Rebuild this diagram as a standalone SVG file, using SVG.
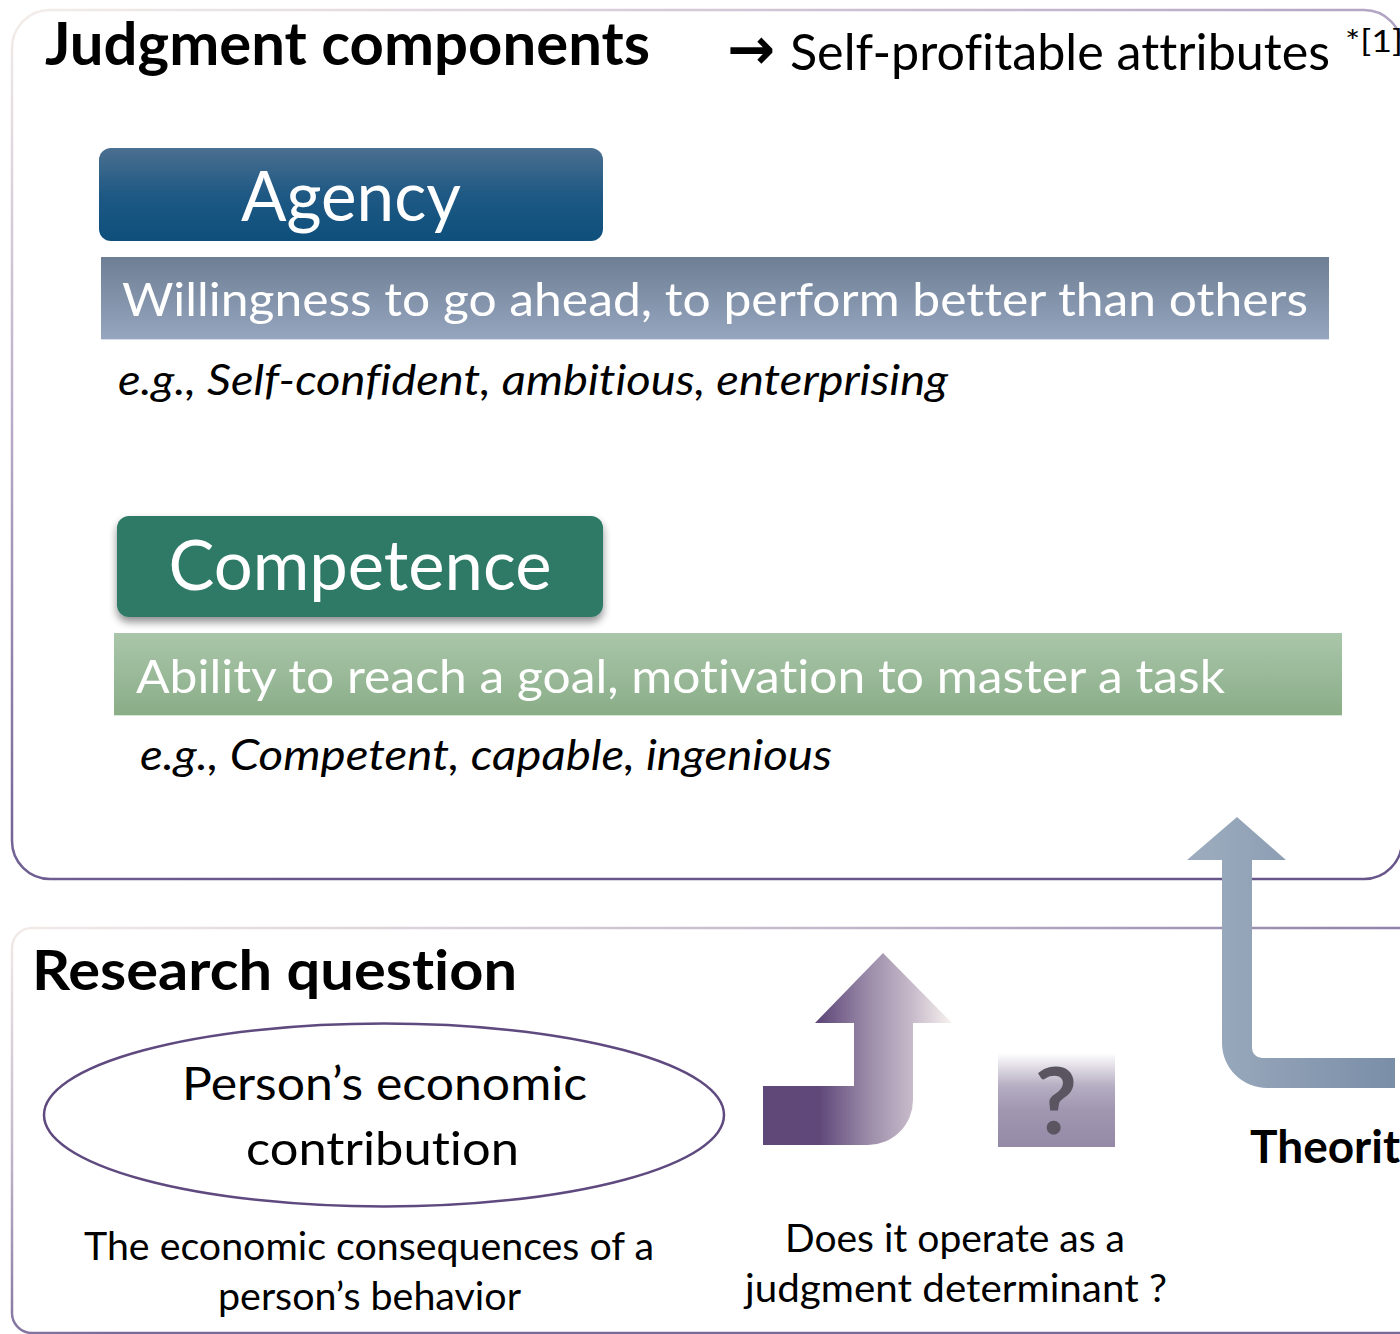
<svg xmlns="http://www.w3.org/2000/svg" width="1400" height="1334" viewBox="0 0 1400 1334">
  <defs>
    <linearGradient id="frameTop" gradientUnits="userSpaceOnUse" x1="12" y1="10" x2="300" y2="880">
      <stop offset="0" stop-color="#f4eeea"/>
      <stop offset="0.45" stop-color="#b6a8c6"/>
      <stop offset="0.9" stop-color="#6e5e92"/>
      <stop offset="1" stop-color="#66568a"/>
    </linearGradient>
    <linearGradient id="frameBottom" gradientUnits="userSpaceOnUse" x1="12" y1="928" x2="120" y2="1334">
      <stop offset="0" stop-color="#f3ebe8"/>
      <stop offset="0.5" stop-color="#c4b8cc"/>
      <stop offset="1" stop-color="#7a6a9a"/>
    </linearGradient>
    <linearGradient id="agencyFill" x1="0" y1="0" x2="0" y2="1">
      <stop offset="0" stop-color="#4b6f8f"/>
      <stop offset="0.5" stop-color="#1e5984"/>
      <stop offset="1" stop-color="#0e4f7c"/>
    </linearGradient>
    <linearGradient id="agencyBar" x1="0" y1="0" x2="0" y2="1">
      <stop offset="0" stop-color="#6d7e95"/>
      <stop offset="1" stop-color="#96a6be"/>
    </linearGradient>
    <linearGradient id="competenceBar" x1="0" y1="0" x2="0" y2="1">
      <stop offset="0" stop-color="#aac6aa"/>
      <stop offset="1" stop-color="#89ad87"/>
    </linearGradient>
    <linearGradient id="blueArrow" gradientUnits="userSpaceOnUse" x1="1187" y1="0" x2="1395" y2="0">
      <stop offset="0" stop-color="#9eadbf"/>
      <stop offset="1" stop-color="#7a8ea8"/>
    </linearGradient>
    <linearGradient id="purpleArrow" gradientUnits="userSpaceOnUse" x1="763" y1="0" x2="952" y2="0">
      <stop offset="0" stop-color="#5e4878"/>
      <stop offset="0.3" stop-color="#60497a"/>
      <stop offset="0.55" stop-color="#9a8aa8"/>
      <stop offset="0.8" stop-color="#c9bdcc"/>
      <stop offset="1" stop-color="#f8f2ee"/>
    </linearGradient>
    <linearGradient id="questionFill" x1="0" y1="0" x2="0" y2="1">
      <stop offset="0" stop-color="#ffffff"/>
      <stop offset="0.35" stop-color="#b6aec3"/>
      <stop offset="0.6" stop-color="#a197b1"/>
      <stop offset="1" stop-color="#958aa6"/>
    </linearGradient>
    <filter id="softShadow" x="-10%" y="-20%" width="120%" height="160%">
      <feGaussianBlur in="SourceAlpha" stdDeviation="4"/>
      <feOffset dx="0" dy="5" result="blur"/>
      <feComponentTransfer><feFuncA type="linear" slope="0.45"/></feComponentTransfer>
      <feMerge><feMergeNode/><feMergeNode in="SourceGraphic"/></feMerge>
    </filter>
  </defs>
  <style>
    text { font-family: Lato, "Open Sans", "Liberation Sans", sans-serif; font-variant-ligatures: none; font-feature-settings: "liga" 0; }
    .head { font-weight: bold; fill: #000; }
    .plain { fill: #000; }
    .white { fill: #fff; }
    .ital { font-style: italic; fill: #000; }
    .frame { fill: none; stroke-width: 2.5; }
  </style>

  <rect width="1400" height="1334" fill="#fff"/>

  <!-- panel frames -->
  <g id="panel-judgment">
    <rect class="frame" x="12" y="10" width="1390" height="869" rx="38" stroke="url(#frameTop)"/>
  </g>
  <g id="panel-research">
    <rect class="frame" x="12" y="928" width="1460" height="405" rx="20" stroke="url(#frameBottom)"/>
  </g>

  <!-- header -->
  <g id="title-judgment">
    <text class="head" x="45" y="65" font-size="60" textLength="605" lengthAdjust="spacingAndGlyphs">Judgment components</text>
    <text x="727" y="69" font-size="58" font-weight="bold" style="font-family:'DejaVu Sans',sans-serif" fill="#000" textLength="48" lengthAdjust="spacingAndGlyphs">→</text>
    <text class="plain" x="790" y="70" font-size="50" textLength="540" lengthAdjust="spacingAndGlyphs">Self-prof&#8204;itable attributes</text>
    <text class="plain" x="1345" y="52" font-size="30" textLength="58" lengthAdjust="spacingAndGlyphs">*[1]</text>
  </g>

  <!-- agency -->
  <g id="node-agency">
    <rect x="99" y="148" width="504" height="93" rx="12" fill="url(#agencyFill)"/>
    <text class="white" x="351" y="221" font-size="70" text-anchor="middle" textLength="220" lengthAdjust="spacingAndGlyphs">Agency</text>
  </g>
  <g id="node-agency-definition">
    <rect x="101" y="257" width="1228" height="83" fill="url(#agencyBar)"/>
    <line x1="101" y1="339.5" x2="1329" y2="339.5" stroke="#d6dde6" stroke-width="1"/>
    <text class="white" x="122" y="316" font-size="47" textLength="1186" lengthAdjust="spacingAndGlyphs">Willingness to go ahead, to perform better than others</text>
  </g>
  <g id="node-agency-examples">
    <text class="ital" x="118" y="395" font-size="42" textLength="830" lengthAdjust="spacingAndGlyphs">e.g., Self-conf&#8204;ident, ambitious,  enterprising</text>
  </g>

  <!-- competence -->
  <g id="node-competence">
    <rect x="117" y="516" width="486" height="101" rx="12" fill="#2d7a66" filter="url(#softShadow)"/>
    <text class="white" x="360" y="590" font-size="70" text-anchor="middle" textLength="383" lengthAdjust="spacingAndGlyphs">Competence</text>
  </g>
  <g id="node-competence-definition">
    <rect x="114" y="633" width="1228" height="83" fill="url(#competenceBar)"/>
    <line x1="114" y1="715.5" x2="1342" y2="715.5" stroke="#d8e6d6" stroke-width="1"/>
    <text class="white" x="136" y="693" font-size="47" textLength="1089" lengthAdjust="spacingAndGlyphs">Ability to reach a goal, motivation to master a task</text>
  </g>
  <g id="node-competence-examples">
    <text class="ital" x="140" y="770" font-size="42" textLength="692" lengthAdjust="spacingAndGlyphs">e.g., Competent, capable,  ingenious</text>
  </g>

  <!-- research question -->
  <g id="title-research">
    <text class="head" x="32" y="990" font-size="56" textLength="485" lengthAdjust="spacingAndGlyphs">Research question</text>
  </g>
  <g id="node-contribution">
    <ellipse cx="384" cy="1115" rx="340" ry="91.5" fill="#fff" stroke="#5f4a80" stroke-width="2.5"/>
    <text class="plain" x="384.5" y="1100" font-size="46" text-anchor="middle" textLength="405" lengthAdjust="spacingAndGlyphs">Person’s economic</text>
    <text class="plain" x="382.5" y="1165" font-size="46" text-anchor="middle" textLength="273" lengthAdjust="spacingAndGlyphs">contribution</text>
  </g>
  <g id="node-contribution-note">
    <text class="plain" x="369" y="1260" font-size="38" text-anchor="middle" textLength="570" lengthAdjust="spacingAndGlyphs">The economic consequences  of a</text>
    <text class="plain" x="369.5" y="1310" font-size="38" text-anchor="middle" textLength="303" lengthAdjust="spacingAndGlyphs">person’s behavior</text>
  </g>
  <g id="node-question">
    <rect x="998" y="1053" width="117" height="94" fill="url(#questionFill)"/>
    <text x="1056" y="1134" font-size="92" font-weight="bold" text-anchor="middle" fill="#5a5560">?</text>
  </g>
  <g id="node-question-note">
    <text class="plain" x="955" y="1252" font-size="38" text-anchor="middle" textLength="340" lengthAdjust="spacingAndGlyphs">Does it operate as a</text>
    <text class="plain" x="956" y="1302" font-size="38" text-anchor="middle" textLength="422" lengthAdjust="spacingAndGlyphs">judgment determinant ?</text>
  </g>
  <g id="node-theory">
    <text class="head" x="1250" y="1163" font-size="46">Theorit</text>
  </g>

  <!-- connectors -->
  <g id="connectors">
    <path d="M883 953 L952 1023 L913 1023 L913 1100 A45 45 0 0 1 868 1145 L763 1145 L763 1086 L854 1086 L854 1023 L815 1023 Z" fill="url(#purpleArrow)"/>
    <path d="M1237 817 L1286 860 L1252 860 L1252 1048 A10 10 0 0 0 1262 1058 L1395 1058 L1395 1088 L1267 1088 A45 45 0 0 1 1222 1043 L1222 860 L1187 860 Z" fill="url(#blueArrow)"/>
  </g>
</svg>
